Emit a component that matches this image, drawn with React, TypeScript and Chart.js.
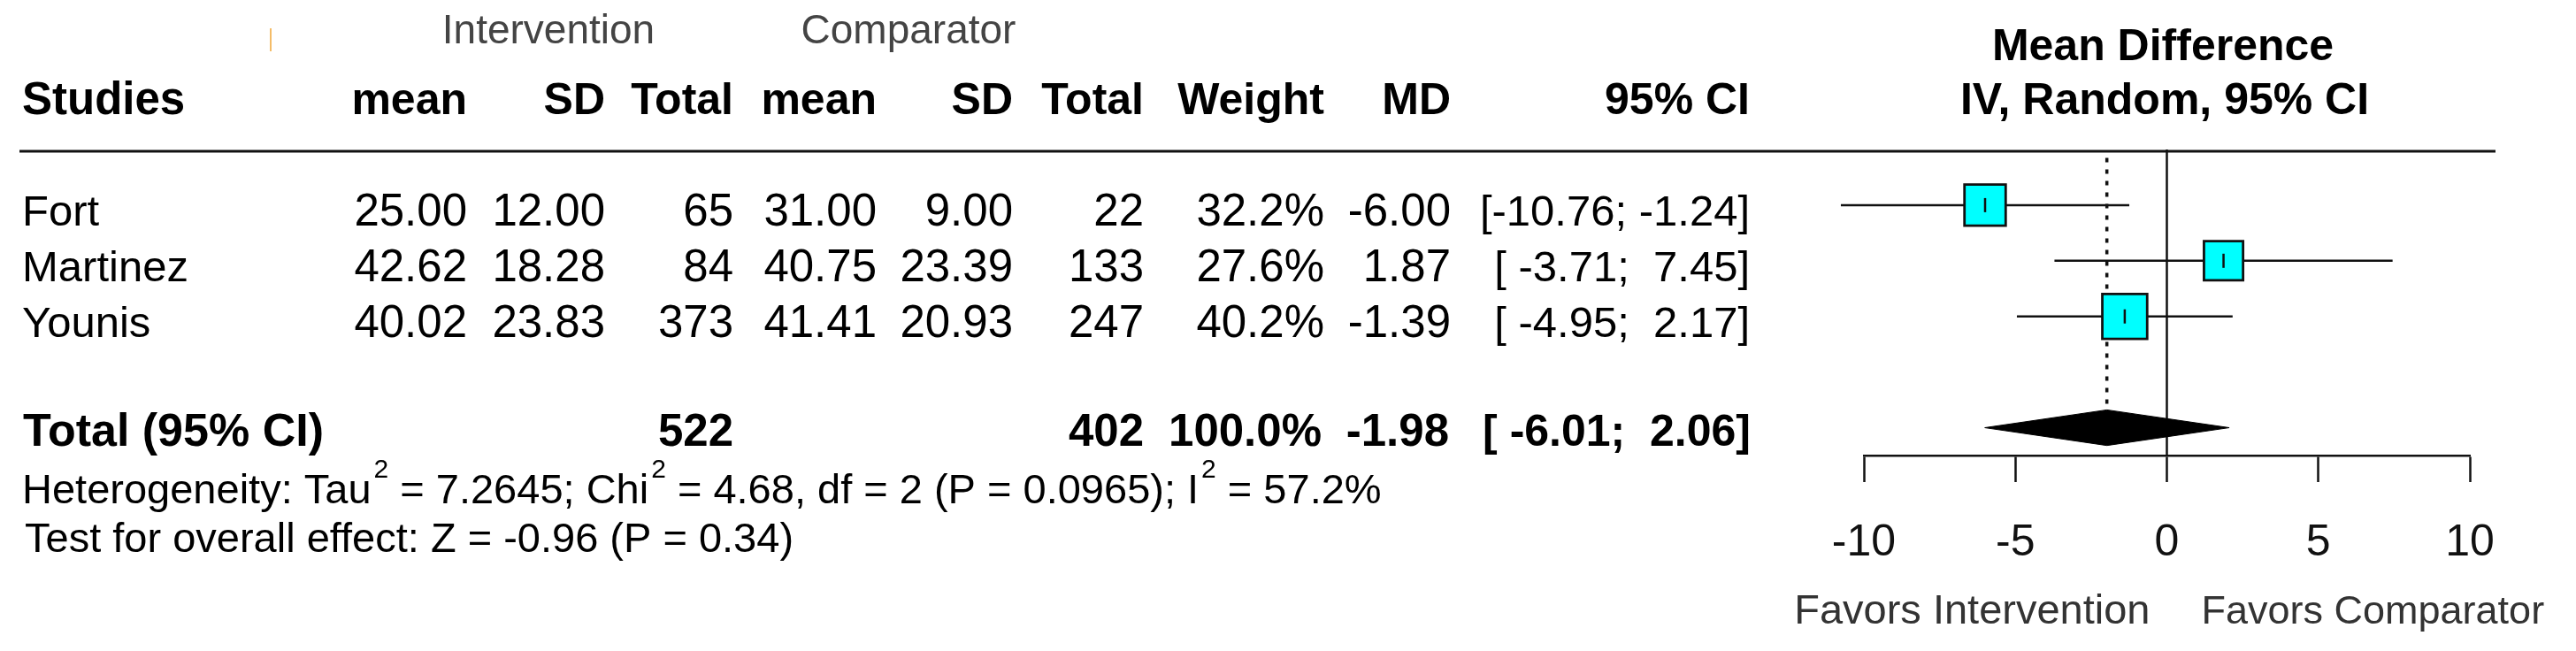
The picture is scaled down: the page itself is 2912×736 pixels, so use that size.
import React, { useEffect, useRef } from 'react';
import { Chart, registerables } from 'chart.js';

Chart.register(...registerables);

// ---------------- data ----------------
const studies = ['Fort', 'Martinez', 'Younis'];
const studyRows = [1, 2, 3];
const intMean = [25.0, 42.62, 40.02];
const intSD = [12.0, 18.28, 23.83];
const intTotal = [65, 84, 373];
const compMean = [31.0, 40.75, 41.41];
const compSD = [9.0, 23.39, 20.93];
const compTotal = [22, 133, 247];
const weights = [32.2, 27.6, 40.2];
const meanDiff = [-6.0, 1.87, -1.39];
const ciLow = [-10.76, -3.71, -4.95];
const ciHigh = [-1.24, 7.45, 2.17];

const totalLabel = 'Total (95% CI)';
const totalRow = 5;
const totalInt = 522;
const totalComp = 402;
const totalWeight = 100.0;
const pooledMD = -1.98;
const pooledLow = -6.01;
const pooledHigh = 2.06;

const tau2 = '7.2645';
const chi2 = '4.68';
const dfHet = 2;
const pHet = '0.0965';
const i2 = '57.2%';
const zOverall = '-0.96';
const pOverall = '0.34';

const xTickValues = [-10, -5, 0, 5, 10];
const xMin = -10;
const xMax = 10;
const yMin = 0;
const yMax = 5.5;

// ---------------- styling ----------------
const FONT = '"Liberation Sans", Arial, Helvetica, sans-serif';
const DIAMOND_HALF = 0.32;
const CYAN = '#00FFFF';
const W = 2912;
const H = 736;

const fmt2 = (v: number) => v.toFixed(2);
const fmtCI = (lo: number, hi: number) =>
  '[' + lo.toFixed(2).padStart(6, ' ') + '; ' + hi.toFixed(2).padStart(5, ' ') + ']';

const colRight = {
  intMean: 528,
  intSD: 684,
  intTotal: 829,
  compMean: 991,
  compSD: 1145,
  compTotal: 1293,
  weight: 1497,
  md: 1640,
  ci: 1978,
};

const tablePlugin = {
  id: 'forestTable',
  afterDraw(chart: any) {
    const ctx: CanvasRenderingContext2D = chart.ctx;
    const ys = chart.scales.y;
    const xs = chart.scales.x;
    ctx.save();
    const txt = (s: string, x: number, y: number, align: CanvasTextAlign, size: number, bold = false, color = '#000') => {
      ctx.font = `${bold ? 'bold ' : ''}${size}px ${FONT}`;
      ctx.fillStyle = color;
      ctx.textAlign = align;
      ctx.textBaseline = 'alphabetic';
      ctx.fillText(s, x, y);
    };

    // small artifact mark
    ctx.strokeStyle = 'rgba(240,160,40,0.7)';
    ctx.lineWidth = 2;
    ctx.beginPath();
    ctx.moveTo(306, 32);
    ctx.lineTo(306, 58);
    ctx.stroke();

    // header line
    ctx.strokeStyle = '#111';
    ctx.lineWidth = 3;
    ctx.beginPath();
    ctx.moveTo(22, 171);
    ctx.lineTo(2821, 171);
    ctx.stroke();

    // group headers
    txt('Intervention', 620, 49, 'center', 46, false, '#444');
    txt('Comparator', 1027, 49, 'center', 46, false, '#444');
    txt('Mean Difference', 2445, 68, 'center', 50, true);
    txt('IV, Random, 95% CI', 2447, 129, 'center', 50, true);

    // column headers
    const hy = 129;
    txt('Studies', 25, hy, 'left', 51, true);
    txt('mean', colRight.intMean, hy, 'right', 50, true);
    txt('SD', colRight.intSD, hy, 'right', 50, true);
    txt('Total', colRight.intTotal, hy, 'right', 50, true);
    txt('mean', colRight.compMean, hy, 'right', 50, true);
    txt('SD', colRight.compSD, hy, 'right', 50, true);
    txt('Total', colRight.compTotal, hy, 'right', 50, true);
    txt('Weight', colRight.weight, hy, 'right', 50, true);
    txt('MD', colRight.md, hy, 'right', 50, true);
    txt('95% CI', colRight.ci, hy, 'right', 50, true);

    // study rows
    const NUM = 51;
    studies.forEach((s, i) => {
      const y = ys.getPixelForValue(studyRows[i]) + 23.5;
      txt(s, 25, y, 'left', 49);
      txt(fmt2(intMean[i]), colRight.intMean, y, 'right', NUM);
      txt(fmt2(intSD[i]), colRight.intSD, y, 'right', NUM);
      txt(String(intTotal[i]), colRight.intTotal, y, 'right', NUM);
      txt(fmt2(compMean[i]), colRight.compMean, y, 'right', NUM);
      txt(fmt2(compSD[i]), colRight.compSD, y, 'right', NUM);
      txt(String(compTotal[i]), colRight.compTotal, y, 'right', NUM);
      txt(weights[i].toFixed(1) + '%', colRight.weight, y, 'right', NUM);
      txt(fmt2(meanDiff[i]), colRight.md, y, 'right', NUM);
      txt(fmtCI(ciLow[i], ciHigh[i]), colRight.ci, y, 'right', 49);
    });

    // total row
    const ty = ys.getPixelForValue(totalRow) + 20;
    txt(totalLabel, 26, ty, 'left', 52, true);
    txt(String(totalInt), colRight.intTotal, ty, 'right', 51, true);
    txt(String(totalComp), colRight.compTotal, ty, 'right', 51, true);
    txt(totalWeight.toFixed(1) + '%', colRight.weight - 3, ty, 'right', 51, true);
    txt(fmt2(pooledMD), colRight.md - 2, ty, 'right', 51, true);
    txt(fmtCI(pooledLow, pooledHigh), colRight.ci + 1, ty, 'right', 50, true);

    // heterogeneity line with superscripts
    const parts: [string, boolean][] = [
      ['Heterogeneity: Tau', false],
      ['2', true],
      [' = ' + tau2 + '; Chi', false],
      ['2', true],
      [' = ' + chi2 + ', df = ' + dfHet + ' (P = ' + pHet + '); I', false],
      ['2', true],
      [' = ' + i2, false],
    ];
    let cx = 25;
    const hyb = 569;
    for (const [s, sup] of parts) {
      const size = sup ? 30 : 47;
      ctx.font = `${size}px ${FONT}`;
      ctx.fillStyle = '#000';
      ctx.textAlign = 'left';
      ctx.textBaseline = 'alphabetic';
      ctx.fillText(s, cx + (sup ? 3 : 0), sup ? hyb - 29 : hyb);
      cx += ctx.measureText(s).width + (sup ? 3 : 0);
    }
    txt('Test for overall effect: Z = ' + zOverall + ' (P = ' + pOverall + ')', 28, 624, 'left', 47);

    // favours labels around zero
    const zx = xs.getPixelForValue(0);
    txt('Favors Intervention', zx - 19, 705, 'right', 47, false, '#333');
    txt('Favors Comparator', zx + 39, 705, 'left', 45, false, '#333');

    ctx.restore();
  },
};

export default function App() {
  const ref = useRef<HTMLCanvasElement | null>(null);

  useEffect(() => {
    document.body.style.margin = '0';
    const canvas = ref.current;
    if (!canvas) return;

    const ciDatasets = studies.map((s, i) => ({
      label: s + ' CI',
      data: [
        { x: ciLow[i], y: studyRows[i] },
        { x: ciHigh[i], y: studyRows[i] },
      ],
      showLine: true,
      borderColor: '#111',
      borderWidth: 2.5,
      pointRadius: 0,
      clip: false,
      order: 3,
    }));

    const chart = new Chart(canvas, {
      type: 'scatter',
      data: {
        datasets: [
          {
            label: 'estimate tick',
            data: studies.map((s, i) => ({ x: meanDiff[i], y: studyRows[i] })),
            pointStyle: 'line',
            rotation: 90,
            pointRadius: 8,
            borderColor: '#111',
            borderWidth: 2.5,
            clip: false,
            order: 0,
          } as any,
          {
            label: 'boxes',
            data: studies.map((s, i) => ({ x: meanDiff[i], y: studyRows[i] })),
            pointStyle: 'rect',
            pointRadius: weights.map((w) => (30 + 0.515 * w) / Math.SQRT2),
            backgroundColor: CYAN,
            borderColor: '#111',
            borderWidth: 2.8,
            clip: false,
            order: 1,
          },
          ...ciDatasets,
          {
            label: 'pooled diamond',
            data: [
              { x: pooledLow, y: totalRow },
              { x: pooledMD, y: totalRow - DIAMOND_HALF },
              { x: pooledHigh, y: totalRow },
              { x: pooledMD, y: totalRow + DIAMOND_HALF },
              { x: pooledLow, y: totalRow },
            ],
            showLine: true,
            fill: 'shape',
            backgroundColor: '#000',
            borderColor: '#000',
            borderWidth: 1,
            pointRadius: 0,
            clip: false,
            order: 4,
          } as any,
          {
            label: 'pooled line',
            data: [
              { x: pooledMD, y: 0.15 },
              { x: pooledMD, y: totalRow - DIAMOND_HALF },
            ],
            showLine: true,
            borderColor: '#111',
            borderWidth: 3.5,
            borderDash: [5, 8],
            pointRadius: 0,
            clip: false,
            order: 5,
          },
          {
            label: 'no effect',
            data: [
              { x: 0, y: yMin },
              { x: 0, y: yMax },
            ],
            showLine: true,
            borderColor: '#111',
            borderWidth: 2.5,
            pointRadius: 0,
            clip: false,
            order: 6,
          },
        ],
      },
      options: {
        responsive: false,
        animation: false,
        devicePixelRatio: 1,
        layout: { padding: { left: 2107, right: W - 2792, top: 169, bottom: 0 } },
        plugins: {
          legend: { display: false },
          tooltip: { enabled: false },
        },
        events: [],
        scales: {
          x: {
            type: 'linear',
            min: xMin,
            max: xMax,
            afterFit: (s: any) => {
              s.height = 221;
            },
            afterBuildTicks: (s: any) => {
              s.ticks = xTickValues.map((v) => ({ value: v }));
            },
            border: { display: true, color: '#111', width: 2.5 },
            grid: {
              display: true,
              drawOnChartArea: false,
              drawTicks: true,
              tickLength: 30,
              tickWidth: 2.5,
              tickColor: '#111',
              color: '#111',
            },
            ticks: {
              autoSkip: false,
              maxRotation: 0,
              padding: 44,
              color: '#111',
              font: { family: FONT, size: 50, lineHeight: 1 },
              callback: (v: any) => String(v),
            },
          },
          y: {
            type: 'linear',
            display: false,
            min: yMin,
            max: yMax,
            reverse: true,
          },
        },
      } as any,
      plugins: [tablePlugin],
    });

    return () => chart.destroy();
  }, []);

  return (
    <div style={{ width: W, height: H, background: '#fff' }}>
      <canvas ref={ref} width={W} height={H} style={{ width: W, height: H, display: 'block' }} />
    </div>
  );
}
